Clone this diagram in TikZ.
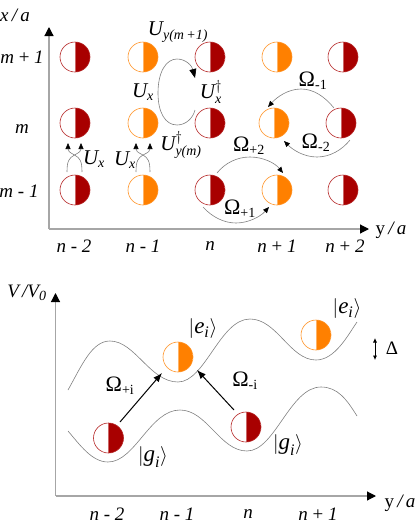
\documentclass[tikz,border=0pt]{standalone}
\usepackage[no-math]{fontspec}
\setmainfont{Liberation Serif}
\usetikzlibrary{arrows.meta}
\definecolor{dred}{HTML}{A80000}
\definecolor{orng}{HTML}{FF8000}
\definecolor{axisc}{HTML}{A6A6A6}
\definecolor{curvec}{HTML}{808080}
\newcommand{\ssb}[1]{\hbox{\fontsize{14}{14}\selectfont\itshape #1}}
\newcommand{\rsb}[1]{\hbox{\fontsize{14}{14}\selectfont #1}}
\newcommand{\UU}{\hbox{\fontsize{21}{21}\selectfont\itshape U}}
\newcommand{\OM}{\hbox{\fontsize{22}{22}\selectfont Ω}}
\newcommand{\ket}[1]{\scalebox{1.15}{$\Bigl|\hbox{\fontsize{20}{20}\selectfont\itshape #1}_{\ssb{i}}\Bigr\rangle$}}
\tikzset{
  x=1pt,y=-1pt,
  halfg/.style={circle,draw=#1!85!white,line width=0.6pt,minimum size=30pt,inner sep=0pt,
    path picture={\fill[#1] (path picture bounding box.north) rectangle (path picture bounding box.south east);
      \draw[#1!60!white,line width=0.5pt] (path picture bounding box.north) -- (path picture bounding box.south);}},
  red/.style={halfg=dred},
  org/.style={halfg=orng},
  axisl/.style={draw=axisc,line width=1.2pt},
  axisarrow/.style={-{Triangle[length=9pt,width=9pt,color=black]}},
  thinarc/.style={draw=curvec,line width=0.6pt,-{Triangle[length=6pt,width=5pt,color=black]}},
  wave/.style={draw=curvec,line width=0.6pt},
  lab/.style={font=\fontsize{19}{19}\selectfont\itshape,inner sep=0pt},
  txt/.style={inner sep=0pt,font=\fontsize{19}{19}\selectfont},
  bold/.style={draw=black,line width=1pt,-{Latex[length=9pt,width=7pt]}},
}
\begin{document}
\begin{tikzpicture}
\useasboundingbox (0,0) rectangle (416,531);
% top axes
\coordinate (oa) at (49,229);
\coordinate (ya) at (49,27);
\coordinate (xa) at (369,229);
\draw[axisl,axisarrow] (oa) -- (ya);
\draw[axisl,axisarrow] (oa) -- (xa);
% grid
\node[red] (a1) at (75,57) {}; \node[org] (b1) at (143,57) {}; \node[red] (c1) at (210,57) {}; \node[org] (d1) at (277,57) {}; \node[red] (e1) at (343,57) {};
\node[red] (a2) at (75,123) {}; \node[org] (b2) at (143,123) {}; \node[red] (c2) at (210,123) {}; \node[org] (d2) at (274,123) {}; \node[red] (e2) at (341,123) {};
\node[red] (a3) at (75,190) {}; \node[org] (b3) at (143,190) {}; \node[red] (c3) at (210,190) {}; \node[org] (d3) at (277,190) {}; \node[red] (e3) at (343,190) {};
% axis labels
\node[lab] (xl) at (15,15) {x\,/\,a};
\node[lab] (yl) at (391,230) {{\upshape y}\,/\,a};
\node[lab] (m1) at (22,57) {m {\upshape +} 1};
\node[lab] (m2) at (22,129) {m};
\node[lab] (m3) at (19,191) {m {\upshape -} 1};
\node[lab] (n1) at (74,246) {n {\upshape -} 2};
\node[lab] (n2) at (143,246) {n {\upshape -} 1};
\node[lab] (n3) at (210,246) {n};
\node[lab] (n4) at (277,246) {n {\upshape +} 1};
\node[lab] (n5) at (345,246) {n {\upshape +} 2};
% U loop
\coordinate (ls) at (195,110); \coordinate (le) at (195,78);
\draw[thinarc,-{Triangle[length=9pt,width=7pt,color=black]}] (ls) .. controls (193,118) and (186,125) .. (177,125) .. controls (165,125) and (158,112) .. (158,93) .. controls (158,72) and (166,59) .. (177,59) .. controls (186,59) and (192,66) .. (le);
% small crossed arrows
\coordinate (p1) at (67,172); \coordinate (p2) at (82,172);
\coordinate (p3) at (136,172); \coordinate (p4) at (150,172);
\coordinate (t1) at (81,143); \coordinate (t2) at (68,143);
\coordinate (t3) at (150,143); \coordinate (t4) at (136,143);
\draw[thinarc] (p1) .. controls (67,161) and (69,158) .. (74.5,155) .. controls (80,152) and (81,151) .. (t1);
\draw[thinarc] (p2) .. controls (82,161) and (80,158) .. (74.5,155) .. controls (69,152) and (68,151) .. (t2);
\draw[thinarc] (p3) .. controls (136,161) and (138,158) .. (143,155) .. controls (149,152) and (150,151) .. (t3);
\draw[thinarc] (p4) .. controls (150,161) and (148,158) .. (143,155) .. controls (137,152) and (136,151) .. (t4);
% omega arcs
\coordinate (a1s) at (334,108); \coordinate (a1e) at (268,107);
\coordinate (a2s) at (350,140); \coordinate (a2e) at (284,141);
\coordinate (a3s) at (217,173); \coordinate (a3e) at (283,173);
\coordinate (a4s) at (203,207); \coordinate (a4e) at (269,207);
\draw[thinarc] (a1s) .. controls (325,97) and (314,89) .. (301,89) .. controls (288,89) and (277,97) .. (a1e);
\draw[thinarc] (a2s) .. controls (342,150) and (330,157) .. (317,157) .. controls (304,157) and (293,150) .. (a2e);
\draw[thinarc] (a3s) .. controls (225,163) and (237,157) .. (250,157) .. controls (263,157) and (275,163) .. (a3e);
\draw[thinarc] (a4s) .. controls (212,217) and (224,223) .. (236,223) .. controls (248,223) and (260,217) .. (a4e);
% omega labels
\node[txt] (ou1) at (313,81) {$\OM_{\rsb{-1}}$};
\node[txt] (ou2) at (316,143) {$\OM_{\rsb{-2}}$};
\node[txt] (ou3) at (249,146) {$\OM_{\rsb{+2}}$};
\node[txt] (ou4) at (240,209) {$\OM_{\rsb{+1}}$};
% U labels
\node[txt] (u1) at (178,32) {$\UU_{\ssb{y(m\,+1)}}$};
\node[txt] (u2) at (143,92) {$\UU_{\ssb{x}}$};
\node[txt] (u3) at (211,92) {$\UU^{\dagger}_{\ssb{x}}$};
\node[txt] (u4) at (181,145) {$\UU^{\dagger}_{\ssb{y(m)}}$};
\node[txt] (u5) at (94,159) {$\UU_{\ssb{x}}$};
\node[txt] (u6) at (125,160) {$\UU_{\ssb{x}}$};
% lower axes
\coordinate (ob) at (55.5,496);
\coordinate (yb) at (55.5,293);
\coordinate (xb) at (376,496);
\draw[axisl,axisarrow] (ob) -- (yb);
\draw[axisl,axisarrow] (ob) -- (xb);
% waves
\draw[wave] (68,390) .. controls (82,365) and (92,341) .. (110,341) .. controls (135,341) and (150,382) .. (178,382) .. controls (205,382) and (220,319) .. (250,319) .. controls (277,319) and (290,360) .. (316,360) .. controls (335,360) and (348,335) .. (357,322);
\draw[wave] (68,431) .. controls (80,445) and (92,462) .. (108,462) .. controls (135,462) and (150,410) .. (180,410) .. controls (207,410) and (220,451) .. (247,451) .. controls (275,451) and (290,387) .. (321,387) .. controls (338,387) and (347,400) .. (357,416);
% lower circles
\node[red] (g1) at (108.5,438) {};
\node[org] (x1) at (178,357) {};
\node[red] (g2) at (246,427) {};
\node[org] (x2) at (316,335) {};
% bold arrows
\coordinate (s1) at (120,422); \coordinate (e1x) at (162,373);
\coordinate (s2) at (234,410); \coordinate (e2x) at (197,370);
\draw[bold] (s1) -- (e1x);
\draw[bold] (s2) -- (e2x);
% lower labels
\node[txt] (om1) at (120,386) {$\OM_{\rsb{+i}}$};
\node[txt] (om2) at (245,381) {$\OM_{\rsb{-i}}$};
\node[txt] (k1) at (203,329) {\ket{e}};
\node[txt] (k2) at (347,309) {\ket{e}};
\node[txt] (k3) at (153,457) {\ket{g}};
\node[txt] (k4) at (288,445) {\ket{g}};
\node[lab] (vl) at (27,293) {V\,/V$_{\ssb{0}}$};
\node[lab] (yl2) at (400,503) {{\upshape y}\,/\,a};
\node[lab] (b1l) at (107,514) {n {\upshape -} 2};
\node[lab] (b2l) at (177,514) {n {\upshape -} 1};
\node[lab] (b3l) at (248,514) {n};
\node[lab] (b4l) at (318,514) {n {\upshape +} 1};
% delta
\coordinate (d1t) at (375,338); \coordinate (d1b) at (375,360);
\draw[black,line width=0.7pt,{Latex[length=4.5pt,width=4pt]}-{Latex[length=4.5pt,width=4pt]}] (d1t) -- (d1b);
\node[txt,font=\fontsize{19}{19}\selectfont] (dl) at (392,348) {Δ};
\end{tikzpicture}
\end{document}
